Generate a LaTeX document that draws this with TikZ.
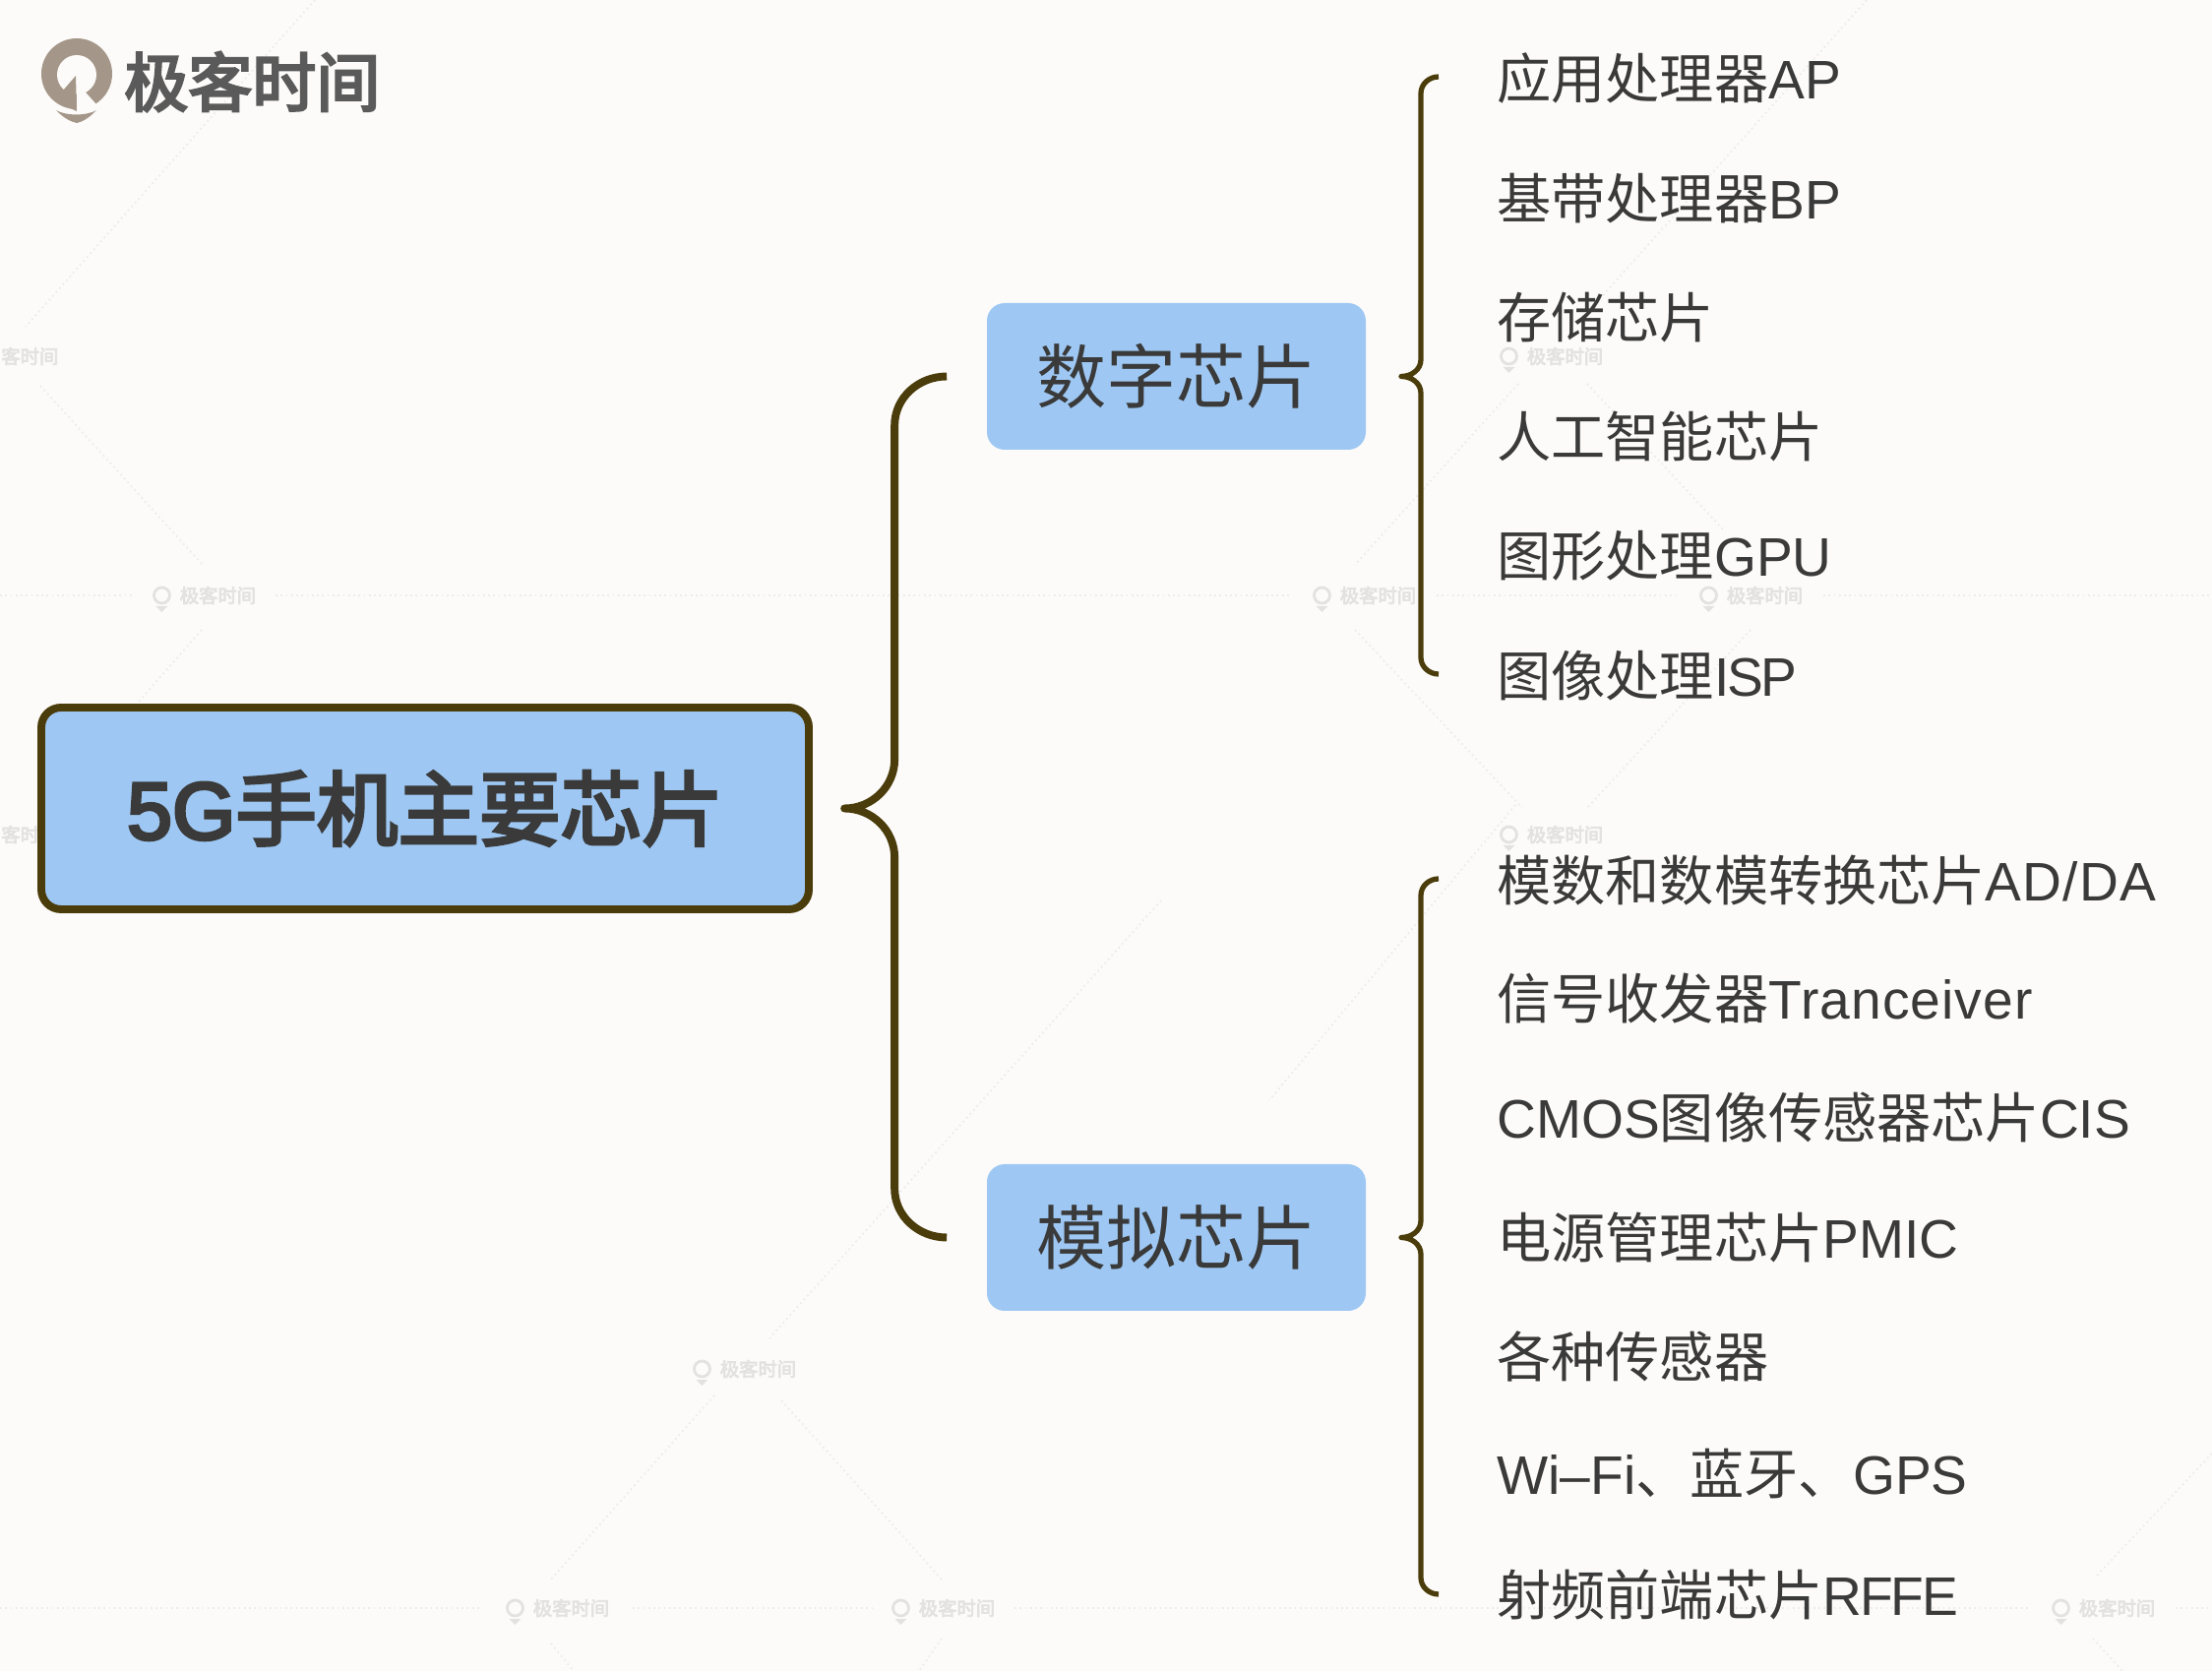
\documentclass[tikz,border=0pt]{standalone}
\usepackage{fontspec}
\usepackage{xcolor}
\setmainfont{Noto Sans CJK SC}
\newfontfamily\latinfont{Liberation Sans}
\newfontfamily\latintight[LetterSpace=-4]{Liberation Sans}
\newfontfamily\latinwide[LetterSpace=2]{Liberation Sans}
\newfontfamily\heavyfont[FakeBold=4]{Noto Sans CJK SC}
\newfontfamily\heavylatin[FakeBold=4]{Liberation Sans}
\newcommand{\lat}[1]{{\latinfont #1}}
\usetikzlibrary{calc}
\definecolor{pagebg}{HTML}{FCFBF9}
\definecolor{boxblue}{HTML}{9EC8F3}
\definecolor{braceline}{HTML}{4B3C0B}
\definecolor{textdark}{HTML}{3A3A3A}
\definecolor{logotan}{HTML}{A49688}
\definecolor{logotext}{HTML}{5A5A5A}
\definecolor{wmarkgray}{HTML}{E4E2E0}
\definecolor{wmarkdots}{HTML}{EEECEA}
\tikzset{
    rootbox/.style={draw=braceline, line width=4.5pt, fill=boxblue, rounded corners=0.4cm, minimum width=15.6cm, minimum height=4.1cm, text=textdark, font=\fontsize{47}{50}\selectfont\heavyfont},
    branchbox/.style={fill=boxblue, rounded corners=0.36cm, minimum width=7.7cm, minimum height=2.98cm, text=textdark, font=\fontsize{40.5}{44}\selectfont},
    leaf/.style={anchor=west, inner sep=0pt, text=textdark, font=\fontsize{31.4}{34}\selectfont},
    bigbrace/.style={draw=braceline, line width=4.5pt, line join=round},
    smallbrace/.style={draw=braceline, line width=3pt, line join=round},
    wmark/.style={text=wmarkgray, inner sep=0pt, font=\fontsize{11}{12}\selectfont\heavyfont},
    wmarkline/.style={draw=wmarkdots, line width=1pt, dotted}
}
% style, top end, node in line with the tip, bottom end, end to spine, spine to tip, height of the bends
\newcommand{\curlybrace}[7]{
    \coordinate (spinex) at ($(#2)+(-#5,0)$);
    \draw[#1] (#2) to[out=180,in=90] ($(spinex)+(0,-#7)$) -- ($(spinex |- #3)+(0,#7)$) to[out=-90,in=0] ($(spinex |- #3)+(-#6,0)$)
        to[out=0,in=90] ($(spinex |- #3)+(0,-#7)$) -- ($(spinex |- #4)+(0,#7)$) to[out=-90,in=180] (#4);
}
\begin{document}
\begin{tikzpicture}
    \useasboundingbox (0,0) rectangle (44.96,33.96);
    \fill[pagebg] (0,0) rectangle (44.96,33.96);

    % watermark tiles
    \foreach \wa/\wb/\wc/\wd in {0/21.86/2.68/21.86, 5.6/21.86/26.24/21.86, 29.2/21.86/34.1/21.86, 37.06/21.86/44.96/21.86,
        0/1.28/9.8/1.28, 12.86/1.28/17.76/1.28, 20.62/1.28/41.28/1.28, 44.22/1.28/44.96/1.28,
        6.4/33.96/0.52/27.32, 0.82/26.12/4.1/22.5, 4.1/21.16/2.82/19.7,
        37.94/33.96/32.44/27.8, 30.86/26.16/27.54/22.48, 32.26/26.16/35.06/23.16,
        27.54/21.16/30.94/17.54, 35.58/21.16/32.26/17.54, 30.8/17.6/25.8/11.6,
        23.6/15.66/15.64/6.76, 14.52/5.6/11.2/1.86, 15.88/5.5/19.14/1.86,
        11.2/0.56/11.66/0, 19.14/0.66/18.68/0, 44.96/4.42/42.6/1.92, 42.54/0.66/43.14/0} {
        \draw[wmarkline] (\wa,\wb) -- (\wc,\wd);
    }
    \foreach \wx/\wy/\wn in {4.14/21.86/b, 27.72/21.86/c, 35.58/21.86/d, 31.52/26.72/e, 31.52/17/f, 15.12/6.14/h, 11.32/1.28/i, 19.16/1.28/j, 42.74/1.28/k} {
        \node[wmark] (wm\wn) at (\wx,\wy) {\hspace{0.58cm}极客时间};
        \draw[wmarkgray, line width=1.6pt] ([xshift=0.22cm]wm\wn.west) circle (0.16cm);
        \fill[wmarkgray] ([xshift=0.1cm,yshift=-0.22cm]wm\wn.west) -- ([xshift=0.34cm,yshift=-0.22cm]wm\wn.west) -- ([xshift=0.22cm,yshift=-0.34cm]wm\wn.west) -- cycle;
    }
    \node[wmark, anchor=west] (wmtop) at (0.02,26.72) {客时间};
    \node[wmark, anchor=west] (wmlow) at (0.02,17) {客时间};

    % logo
    \fill[logotan] (1.56,32.46) circle (0.72cm);
    \fill[pagebg] (1.56,32.44) circle (0.4cm);
    \fill[logotan] (1.28,32.12) -- (1.54,32.42) -- (1.56,31.7) -- (1.16,31.88) -- cycle;
    \fill[pagebg] (1.56,32.42) -- (1.76,32.06) -- (1.94,31.86) -- (2,31.6) -- (1.56,31.6) -- cycle;
    \fill[pagebg] (1.0,31.92) .. controls (1.2,31.72) and (1.4,31.66) .. (1.56,31.66) -- (2,31.6) -- (2,31.2) -- (1,31.2) -- cycle;
    \fill[logotan] (1.14,31.72) .. controls (1.34,31.6) and (1.76,31.6) .. (1.96,31.72) .. controls (1.8,31.55) and (1.66,31.48) .. (1.56,31.46) .. controls (1.46,31.48) and (1.3,31.55) .. (1.14,31.72);
    \node[anchor=west, inner sep=0pt, text=logotext, font=\fontsize{37}{40}\selectfont\heavyfont] (logoname) at (2.52,32.3) {极客时间};

    % main boxes
    \node[rootbox] (root) at (8.64,17.53) {{\heavylatin 5G}手机主要芯片};
    \node[branchbox] (digital) at (23.91,26.31) {数字芯片};
    \node[branchbox] (analog) at (23.91,8.81) {模拟芯片};

    % leaves
    \foreach \nm/\yy/\txt in {
        ap/32.36/应用处理器\lat{AP}, bp/29.92/基带处理器\lat{BP}, mem/27.5/存储芯片,
        ai/25.08/人工智能芯片, gpu/22.66/图形处理\lat{GPU}, isp/20.22/图像处理{\latintight ISP},
        adc/16.06/模数和数模转换芯片{\latinwide AD/DA}, trx/13.66/信号收发器{\latinwide Tranceiver},
        cis/11.24/\lat{CMOS}图像传感器芯片\lat{CIS}, pmic/8.82/电源管理芯片\lat{PMIC},
        sensor/6.4/各种传感器, wifi/4/\lat{Wi–Fi}、蓝牙、\lat{GPS}, rffe/1.56/射频前端芯片{\latintight RFFE}} {
        \node[leaf] (\nm) at (30.42,\yy) {\txt};
    }

    % braces
    \coordinate (digitalend) at ([xshift=-0.81cm]digital.west);
    \coordinate (analogend) at ([xshift=-0.81cm]analog.west);
    \curlybrace{bigbrace}{digitalend}{root.east}{analogend}{1.06}{1.02}{1}
    \coordinate (aptop) at ([xshift=-1.18cm,yshift=0.04cm]ap.west);
    \coordinate (ispbot) at ([xshift=-1.18cm,yshift=0.04cm]isp.west);
    \curlybrace{smallbrace}{aptop}{digital.east}{ispbot}{0.36}{0.4}{0.34}
    \coordinate (adctop) at ([xshift=-1.18cm,yshift=0.04cm]adc.west);
    \coordinate (rffebot) at ([xshift=-1.18cm]rffe.west);
    \curlybrace{smallbrace}{adctop}{analog.east}{rffebot}{0.36}{0.4}{0.34}
\end{tikzpicture}
\end{document}
